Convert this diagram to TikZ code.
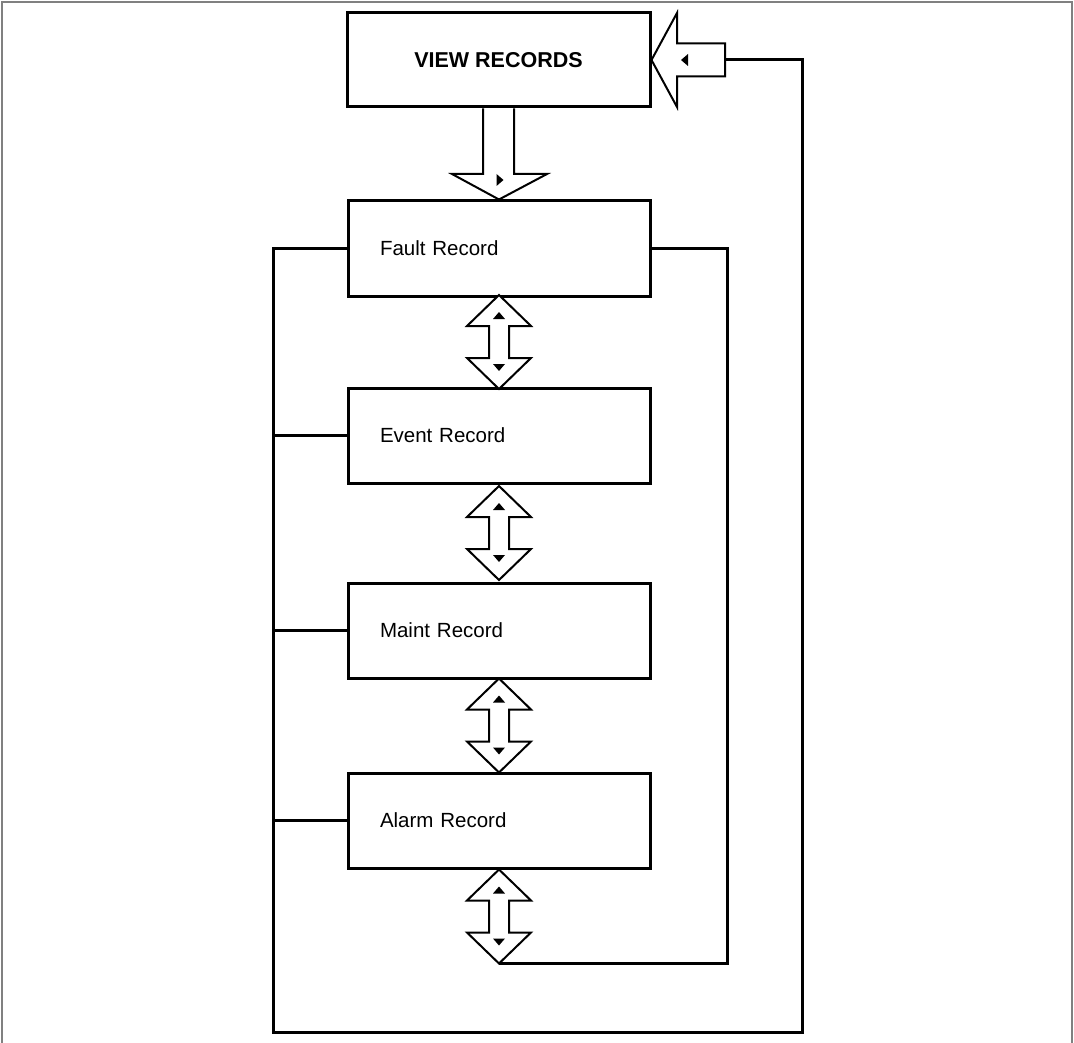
\documentclass[tikz,border=0pt]{standalone}
\usepackage{fontspec}
\setmainfont{Liberation Sans}
\usetikzlibrary{calc}
\definecolor{framegrey}{HTML}{808080}
\tikzset{
  recbox/.style={draw, line width=3pt, minimum width=302pt, minimum height=95pt,
    text width=238pt, inner xsep=32pt, inner ysep=0pt, align=left,
    font=\fontsize{20.5}{24}\selectfont},
  titlebox/.style={draw, line width=3pt, minimum width=303pt, minimum height=94pt,
    inner sep=0pt, font=\bfseries\fontsize{21.5}{24}\selectfont},
  conn/.style={line width=3pt},
  blockarrow/.style={draw, fill=white, line width=2pt, line join=miter},
  tri/.style={fill=black, draw=none},
  dbl/.pic={
    \path[blockarrow] (0,-47) -- (32,-16) -- (10,-16) -- (10,16) -- (32,16) -- (0,47)
      -- (-32,16) -- (-10,16) -- (-10,-16) -- (-32,-16) -- cycle;
    \fill[tri] (0,-30) -- (6,-23) -- (-6,-23) -- cycle;
    \fill[tri] (0,29) -- (6,22) -- (-6,22) -- cycle;
    \coordinate (-top) at (0,-47);
    \coordinate (-bot) at (0,47);
  }
}
\begin{document}
\begin{tikzpicture}[x=1pt,y=-1pt]
\useasboundingbox (0,0) rectangle (1074,1043);
\draw[framegrey, line width=2pt] (2,1043) -- (2,2) -- (1072,2) -- (1072,1043);

\node[titlebox] (view) at (498.5,60) {VIEW RECORDS};
\node[recbox] (fault) at (499,248.5) {Fault Record};
\node[recbox] (event) at (499,435.5) {Event Record};
\node[recbox] (maint) at (499,630.5) {Maint Record};
\node[recbox] (alarm) at (499,820.5) {Alarm Record};

% down block arrow from VIEW RECORDS to Fault Record
\path[blockarrow] (view.south -| 483,0) -- (483,174) -- (452,174) -- (fault.north)
  -- (547,174) -- (514,174) -- (view.south -| 514,0);
\fill[tri] (496.5,174) -- (503.5,180) -- (496.5,186) -- cycle;

% left block arrow into VIEW RECORDS
\coordinate (intail) at (725,60);
\path[blockarrow] (view.east) -- (677,13) -- (677,43.5) -- (725,43.5) -- (725,76.5)
  -- (677,76.5) -- (677,107) -- cycle;
\fill[tri] (681,60) -- (688,54) -- (688,66) -- cycle;

% double block arrows
\pic (d1) at ($(fault.south)!0.5!(event.north)$) {dbl};
\pic (d2) at ($(event.south)!0.5!(maint.north)$) {dbl};
\pic (d3) at ($(maint.south)!0.5!(alarm.north)$) {dbl};
\pic (d4) at ($(alarm.south)+(0,47)$) {dbl};

% loop connectors
\coordinate (lb) at (273,1032);
\coordinate (rt) at (802,60);
\draw[conn] (fault.west) -| (lb) -| (rt) -- (intail);
\draw[conn] (event.west) -- (event.west -| lb);
\draw[conn] (maint.west) -- (maint.west -| lb);
\draw[conn] (alarm.west) -- (alarm.west -| lb);
\draw[conn] (fault.east) -| ($(d4-bot)+(228,0)$) -- (d4-bot);
\end{tikzpicture}
\end{document}
